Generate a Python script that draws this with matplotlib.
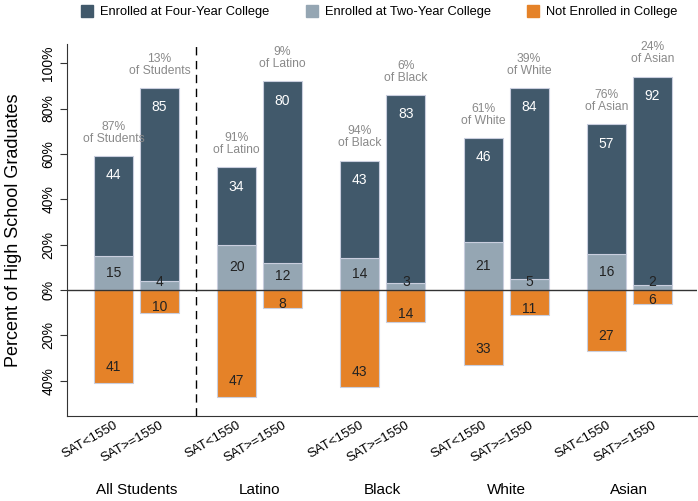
import matplotlib.pyplot as plt
from matplotlib.lines import Line2D
from matplotlib import transforms
import numpy as np

plt.rcParams['font.family'] = ['Liberation Sans', 'DejaVu Sans']

groups = ['All Students', 'Latino', 'Black', 'White', 'Asian']
sat_labels = ['SAT<1550', 'SAT>=1550']

four_year = [[44, 85], [34, 80], [43, 83], [46, 84], [57, 92]]
two_year = [[15, 4], [20, 12], [14, 3], [21, 5], [16, 2]]
not_enrolled = [[41, 10], [47, 8], [43, 14], [33, 11], [27, 6]]
share = [['87%', '13%'], ['91%', '9%'], ['94%', '6%'], ['61%', '39%'], ['76%', '24%']]
share_of = ['Students', 'Latino', 'Black', 'White', 'Asian']

dark = '#41596b'
light = '#95a6b3'
orange = '#e58228'
edge = '#c9cede'

fig = plt.figure(figsize=(6.98, 5.01), dpi=100)
ax = fig.add_axes([0.096, 0.170, 0.903, 0.742])

group_gap = 2.68
width = 0.85
xs = []
for g in range(len(groups)):
    for k in range(2):
        x = g * group_gap + (k - 0.5)
        xs.append(x)
        f = four_year[g][k]
        t = two_year[g][k]
        n = not_enrolled[g][k]
        ax.bar(x, t, width, color=light, edgecolor=edge, linewidth=0.8)
        ax.bar(x, f, width, bottom=t, color=dark, edgecolor=edge, linewidth=0.8)
        ax.bar(x, -n, width, color=orange, edgecolor=edge, linewidth=0.8)
        top = f + t
        ax.text(x, top - 8.5, str(f), color='white', ha='center', va='center', fontsize=10)
        ax.text(x, max(t / 2, 3.6), str(t), color='#222222', ha='center', va='center', fontsize=10)
        ax.text(x, -max(n - 7, n * 0.75), str(n), color='#222222', ha='center', va='center', fontsize=10)
        ax.text(x, top + 5, share[g][k] + '\nof ' + share_of[g], color='#8a8a8a',
                ha='center', va='bottom', fontsize=8.7, linespacing=1.0)

ax.axhline(0, color='#333333', linewidth=1)
ax.axvline(1.30, color='black', linestyle=(0, (6, 4)), linewidth=1)

ax.set_xlim(-1.51, 12.2)
ax.set_ylim(-55.5, 108.4)
yt = np.arange(-40, 101, 20)
ax.set_yticks(yt)
ax.set_yticklabels([f'{abs(v)}%' for v in yt], rotation=90, va='center', fontsize=10)
ax.set_xticks(xs)
ax.set_xticklabels(sat_labels * len(groups), rotation=30, ha='right',
                   rotation_mode='anchor', fontsize=9.5)
ax.tick_params(axis='x', length=0, pad=2.5)
ax.tick_params(axis='y', length=5, direction='out', color='#333333')
for s in ['top', 'right']:
    ax.spines[s].set_visible(False)
for s in ['left', 'bottom']:
    ax.spines[s].set_color('#333333')

trans = transforms.blended_transform_factory(ax.transData, ax.transAxes)
for g, name in enumerate(groups):
    ax.text(g * group_gap, -0.199, name, transform=trans, ha='center', va='center', fontsize=11)

ax.set_ylabel('Percent of High School Graduates', fontsize=13, labelpad=14)

handles = [Line2D([], [], marker='s', linestyle='', markersize=8, color=c)
           for c in [dark, light, orange]]
fig.legend(handles, ['Enrolled at Four-Year College', 'Enrolled at Two-Year College',
                     'Not Enrolled in College'],
           loc='center', bbox_to_anchor=(0.543, 0.976), ncol=3, frameon=False,
           fontsize=9.3, handletextpad=0.5, columnspacing=2.8, handlelength=1)

fig.savefig('out.png', dpi=100)
